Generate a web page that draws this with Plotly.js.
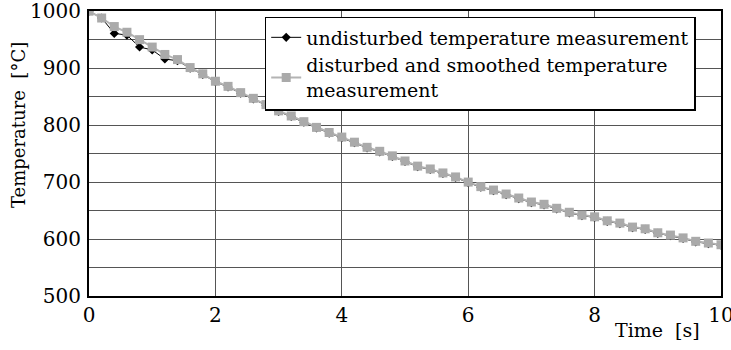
<!DOCTYPE html>
<html>
<head>
<meta charset="utf-8">
<script src="https://cdn.plot.ly/plotly-3.0.1.min.js"></script>
<style>html,body{margin:0;padding:0;background:#fff}#chart{width:731px;height:350px}</style>
</head>
<body>
<div id="chart"></div>
<script>
const time = [0,0.2,0.4,0.6,0.8,1.0,1.2,1.4,1.6,1.8,2.0,2.2,2.4,2.6,2.8,3.0,3.2,3.4,3.6,3.8,4.0,4.2,4.4,4.6,4.8,5.0,5.2,5.4,5.6,5.8,6.0,6.2,6.4,6.6,6.8,7.0,7.2,7.4,7.6,7.8,8.0,8.2,8.4,8.6,8.8,9.0,9.2,9.4,9.6,9.8,10.0];
const smoothed = [1000,988,973,963,950,937,924,915,901,890,877,868,857,847,836,825,816,806,796,787,779,770,761,754,746,737,728,723,716,709,700,692,686,679,672,665,661,654,647,642,639,632,628,621,618,611,607,602,596,593,590];
const undisturbed = [1000,988,961,958,937,932,916,913,900,889,876,867,856,846,835,824,815,805,795,786,778,769,760,753,745,736,727,722,715,708,699,691,685,678,671,664,660,653,646,641,638,631,627,620,617,610,606,601,595,592,589];
const xTicks = [0,2,4,6,8,10];
const yTicks = [500,600,700,800,900,1000];
const seriesNames = ["undisturbed temperature measurement","disturbed and smoothed temperature<br>measurement"];

const serif = "DejaVu Serif";
const traces = [
  {x: time, y: undisturbed, name: seriesNames[0], mode: "lines+markers",
   line: {color: "#000", width: 1}, marker: {symbol: "diamond", size: 7, color: "#000"}},
  {x: time, y: smoothed, name: seriesNames[1], mode: "lines+markers",
   line: {color: "#b4b4b4", width: 2}, marker: {symbol: "square", size: 9, color: "#aaaaaa"}}
];
const layout = {
  width: 731, height: 350,
  margin: {l: 89, r: 10, t: 11, b: 54},
  paper_bgcolor: "#fff", plot_bgcolor: "#fff",
  font: {family: serif, color: "#000", size: 20},
  showlegend: true,
  legend: {x: 0.278, y: 0.979, xanchor: "left", yanchor: "top", bgcolor: "#fff",
    bordercolor: "#000", borderwidth: 1.5, font: {family: serif, size: 19, color: "#000"},
    tracegroupgap: 0, itemwidth: 30},
  xaxis: {range: [0, 10], tickvals: xTicks, ticktext: xTicks.map(String), ticks: "",
    showgrid: true, gridcolor: "#555", gridwidth: 1, zeroline: false,
    showline: true, linecolor: "#000", linewidth: 2, mirror: true,
    ticklabeloverflow: "allow", automargin: false,
    tickfont: {family: serif, size: 20}},
  yaxis: {range: [500, 1000.3], tickvals: yTicks, ticktext: yTicks.map(String), ticks: "",
    showgrid: true, gridcolor: "#555", gridwidth: 1, zeroline: false,
    minor: {dtick: 50, showgrid: true, gridcolor: "#555", gridwidth: 1},
    showline: true, linecolor: "#000", linewidth: 2, mirror: true,
    ticklabeloverflow: "allow", automargin: false,
    tickfont: {family: serif, size: 20}, ticklabelstandoff: 2},
  annotations: [
    {text: "Time  [s]", xref: "paper", yref: "paper", x: 1.0, y: 0, xanchor: "right", yanchor: "top",
     yshift: -21, xshift: -19, showarrow: false, font: {family: serif, size: 19}},
    {text: "Temperature  [°C]", xref: "paper", yref: "paper", x: 0, y: 0.6, xanchor: "center", yanchor: "middle",
     xshift: -71, textangle: -90, showarrow: false, font: {family: serif, size: 18}}
  ]
};
Plotly.newPlot("chart", traces, layout, {displayModeBar: false, staticPlot: true});
</script>
</body>
</html>
